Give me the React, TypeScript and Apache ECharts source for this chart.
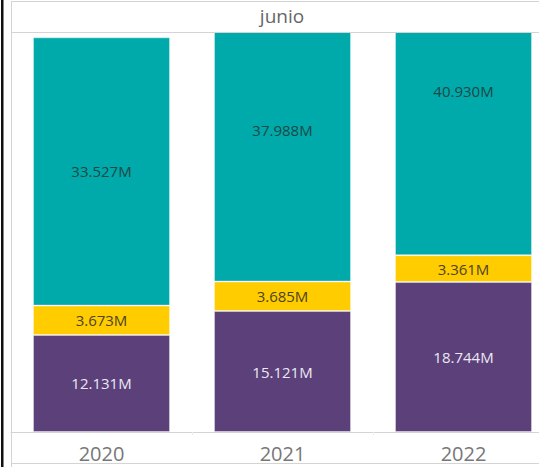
import React, { useEffect, useRef } from "react";
import * as echarts from "echarts";

const years = ["2020", "2021", "2022"];
const purpleValues = [12.131, 15.121, 18.744];
const yellowValues = [3.673, 3.685, 3.361];
const tealValues = [33.527, 37.988, 40.93];
const headerTitle = "junio";

const fmt = (v: number) => v.toFixed(3) + "M";

export default function App() {
  const ref = useRef<HTMLDivElement>(null);
  useEffect(() => {
    if (!ref.current) return;
    const chart = echarts.init(ref.current, null, { renderer: "svg" });
    const labelBase = {
      show: true,
      position: "inside",
      fontFamily: "Open Sans",
      fontSize: 15,
      formatter: (p: any) => fmt(p.value),
    };
    const mk = (name: string, data: number[], color: string, textColor: string) => ({
      name,
      type: "bar",
      stack: "total",
      data,
      barWidth: 137,
      clip: false,
      itemStyle: { color, borderColor: "rgba(255,255,255,0.35)", borderWidth: 1 },
      label: { ...labelBase, color: textColor },
      emphasis: { disabled: true },
    });
    chart.setOption({
      animation: false,
      grid: { left: 11, top: 32, width: 543, height: 400 },
      xAxis: {
        type: "category",
        data: years,
        boundaryGap: true,
        axisLine: { show: true, lineStyle: { color: "#d4d4d4", width: 1 } },
        axisTick: { show: true, length: 3, lineStyle: { color: "#ececec" } },
        axisLabel: {
          color: "#777",
          fontFamily: "Open Sans",
          fontSize: 20,
          margin: 11,
        },
      },
      yAxis: {
        type: "value",
        min: 0,
        max: 50,
        show: false,
        splitLine: { show: false },
      },
      series: [
        mk("purple", purpleValues, "#5b407a", "#ece8f2"),
        mk("yellow", yellowValues, "#ffcc00", "#4d4420"),
        mk("teal", tealValues, "#00aaaa", "#1d4848"),
      ],
      graphic: [
        { type: "rect", z: 100, shape: { x: 0, y: 0, width: 560, height: 32 }, style: { fill: "#fff" } },
        { type: "line", z: 101, shape: { x1: 11, y1: 1.5, x2: 560, y2: 1.5 }, style: { stroke: "#d4d4d4", lineWidth: 1 } },
        { type: "line", z: 101, shape: { x1: 11, y1: 32.5, x2: 560, y2: 32.5 }, style: { stroke: "#d4d4d4", lineWidth: 1 } },
        { type: "line", z: 101, shape: { x1: 11.5, y1: 1, x2: 11.5, y2: 467 }, style: { stroke: "#d4d4d4", lineWidth: 1 } },
        { type: "line", z: 101, shape: { x1: 11, y1: 463.5, x2: 560, y2: 463.5 }, style: { stroke: "#d4d4d4", lineWidth: 1 } },
        { type: "rect", z: 101, shape: { x: 1, y: 0, width: 2.5, height: 467 }, style: { fill: "#111" } },
        {
          type: "text",
          z: 102,
          x: 282,
          y: 16,
          style: {
            text: headerTitle,
            fill: "#666",
            font: "19px 'Open Sans'",
            textAlign: "center",
            textVerticalAlign: "middle",
          },
        },
      ],
    });
    return () => chart.dispose();
  }, []);
  return (
    <div
      style={{ position: "absolute", left: 0, top: 0, width: 539, height: 467, overflow: "hidden", background: "#fff" }}
    >
      <div ref={ref} style={{ width: 570, height: 467 }} />
    </div>
  );
}
